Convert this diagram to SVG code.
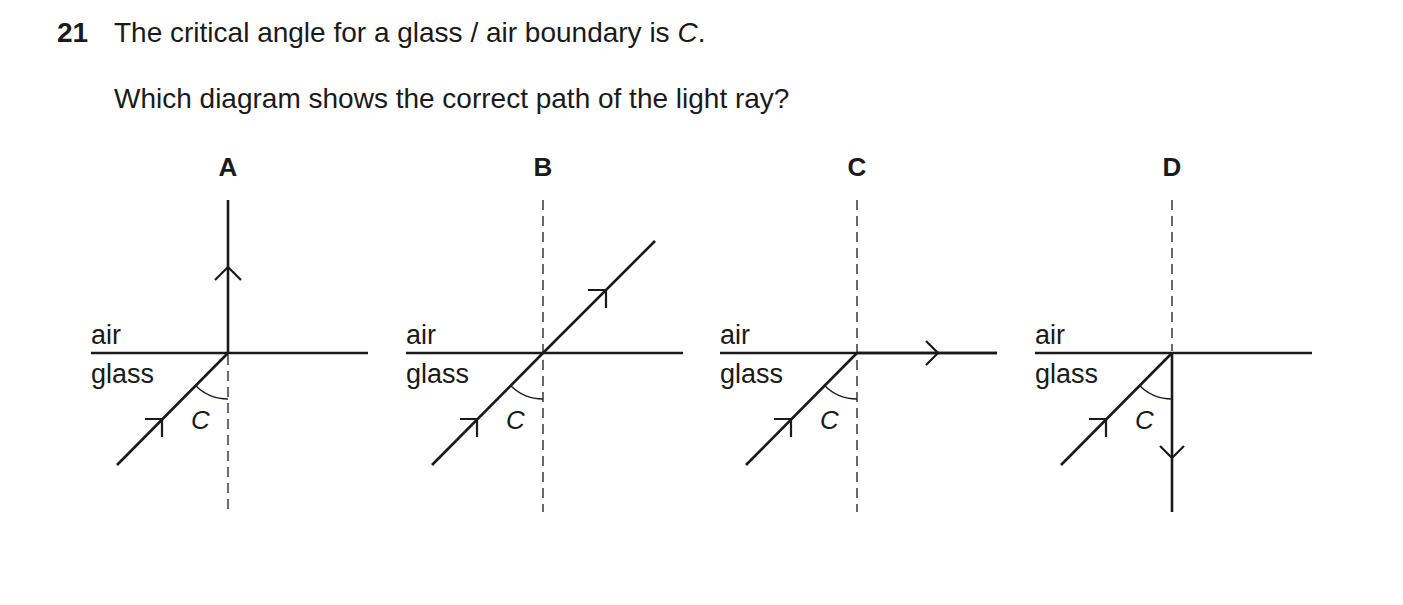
<svg xmlns="http://www.w3.org/2000/svg" width="1403" height="605" viewBox="0 0 1403 605">
<style>
text{font-family:"Liberation Sans",Arial,sans-serif;fill:#1a1a1a}
.t{font-size:28px}
.l{font-size:27px}
.h{font-size:26px;font-weight:bold;text-anchor:middle}
.c{font-size:26px;font-style:italic}
.s{stroke:#1a1a1a;stroke-width:2.6;fill:none}
.b{stroke:#1a1a1a;stroke-width:2.2;fill:none}
.a{stroke:#1a1a1a;stroke-width:1.3;fill:none}
.d{stroke:#1a1a1a;stroke-width:1.3;stroke-dasharray:10,6;fill:none}
</style>
<rect width="1403" height="605" fill="#fff"/>
<text x="57" y="42" class="t" font-weight="bold">21</text>
<text x="114" y="42" class="t">The critical angle for a glass / air boundary is <tspan font-style="italic">C</tspan>.</text>
<text x="114" y="108" class="t">Which diagram shows the correct path of the light ray?</text>
<defs>
<g id="base">
<line x1="-137" y1="0" x2="140" y2="0" class="s"/>
<line x1="-111" y1="112" x2="0" y2="0" class="s"/>
<path d="M-83,66 H-66 V84" class="b"/>
<path d="M-32.5,32.5 A46,46 0 0 0 0,46" class="a"/>
<text x="-137" y="-9" class="l">air</text>
<text x="-137" y="30" class="l">glass</text>
<text x="-37" y="76" class="c">C</text>
</g>
</defs>
<g id="nodeA" transform="translate(228,353)">
<text x="0" y="-177" class="h">A</text>
<use href="#base"/>
<line x1="0" y1="0" x2="0" y2="-153" class="s"/>
<path d="M-13,-73 L0,-86 L13,-73" class="b"/>
<line x1="0" y1="2" x2="0" y2="159" class="d"/>
</g>
<g id="nodeB" transform="translate(543,353)">
<text x="0" y="-177" class="h">B</text>
<use href="#base"/>
<line x1="0" y1="0" x2="112" y2="-112" class="s"/>
<path d="M45,-63 H63 V-45" class="b"/>
<line x1="0" y1="-153" x2="0" y2="159" class="d"/>
</g>
<g id="nodeC" transform="translate(857,353)">
<text x="0" y="-177" class="h">C</text>
<use href="#base"/>
<line x1="0" y1="0" x2="140" y2="0" class="s"/>
<path d="M69,-12 L81,0 L69,12" class="b"/>
<line x1="0" y1="-153" x2="0" y2="159" class="d"/>
</g>
<g id="nodeD" transform="translate(1172,353)">
<text x="0" y="-177" class="h">D</text>
<use href="#base"/>
<line x1="0" y1="0" x2="0" y2="159" class="s"/>
<path d="M-12,93 L0,105 L12,93" class="b"/>
<line x1="0" y1="-153" x2="0" y2="-2" class="d"/>
</g>
<g id="connectors"/>
</svg>
